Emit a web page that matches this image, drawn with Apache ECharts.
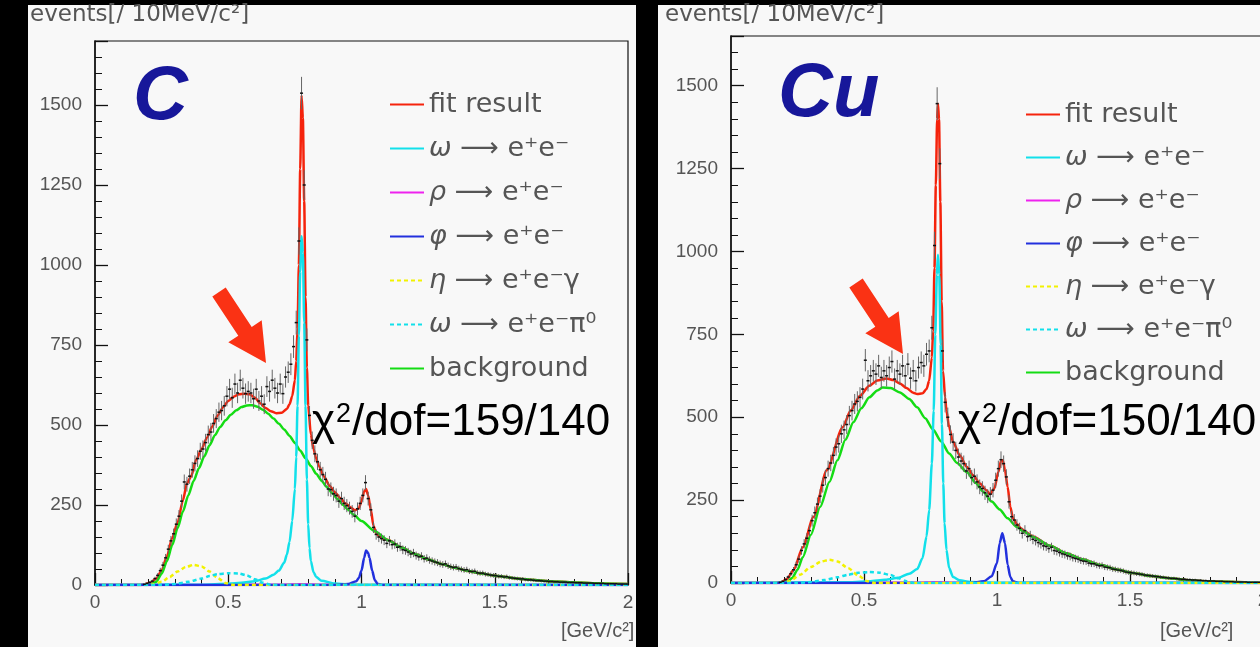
<!DOCTYPE html>
<html>
<head>
<meta charset="utf-8">
<script src="https://cdn.jsdelivr.net/npm/echarts@6/dist/echarts.min.js"></script>
<style>
html, body { margin: 0; padding: 0; background: #000; overflow: hidden; }
.panel { position: absolute; background: #f8f8f8; }
#chart { position: absolute; left: 0; top: 0; width: 1270px; height: 647px; }
</style>
</head>
<body>
<div class="panel" style="left:28px;top:5px;width:608px;height:642px"></div>
<div class="panel" style="left:658px;top:5px;width:612px;height:642px"></div>
<div id="chart"></div>
<script>
// histogram bins: 10 MeV wide, first bin centre at 0.185 GeV
var binStart = 0.185;
var binWidth = 0.01;

var xTicks = [0, 0.5, 1, 1.5, 2];
var yTicks = [0, 250, 500, 750, 1000, 1250, 1500];

// measured counts, carbon target
var dataC = [
  2, 5, 8, 12, 20, 30, 45, 62, 85, 112,
  138, 160, 190, 215, 262, 322, 315, 340, 360, 380,
  395, 418, 425, 445, 470, 478, 505, 520, 540, 545,
  560, 590, 612, 585, 628, 600, 640, 615, 598, 605,
  600, 582, 612, 575, 590, 565, 620, 605, 640, 615,
  600, 628, 598, 650, 665, 690, 745, 820, 1075, 1537,
  1250, 766, 530, 452, 410, 385, 360, 345, 330, 300,
  298, 285, 280, 262, 270, 255, 248, 240, 230, 215,
  238, 255, 280, 320, 270, 235, 180, 158, 150, 145,
  140, 130, 138, 126, 128, 118, 120, 110, 108, 103,
  97, 100, 92, 88, 90, 82, 84, 78, 75, 72,
  70, 66, 64, 66, 60, 57, 55, 56, 51, 49,
  47, 48, 43, 42, 43, 38, 37, 37, 34, 33,
  31, 30, 29, 27, 27, 25, 26, 23, 22, 21,
  20, 19, 19, 17, 16, 16, 15, 14, 14, 13,
  12, 12, 11, 11, 10, 10, 9, 9, 9, 8,
  8, 8, 7, 7, 7, 6, 6, 6, 6, 5,
  5, 5, 5, 4, 4, 4, 4, 4, 3, 3, 3, 3
];

// measured counts, copper target
var dataCu = [
  2, 5, 10, 18, 28, 40, 55, 72, 98, 118,
  135, 158, 188, 212, 238, 262, 295, 318, 345, 362,
  385, 410, 420, 450, 462, 478, 505, 520, 540, 548,
  560, 585, 672, 610, 625, 640, 630, 655, 620, 640,
  625, 650, 668, 615, 640, 630, 655, 625, 660, 618,
  640, 610, 650, 665, 655, 690, 700, 770, 1018, 1446,
  1265, 700, 545, 500, 448, 425, 400, 380, 368, 360,
  338, 345, 318, 322, 305, 290, 285, 272, 262, 268,
  280, 310, 345, 372, 360, 320, 245, 200, 190, 175,
  165, 150, 158, 140, 142, 132, 128, 122, 118, 112,
  110, 104, 108, 98, 96, 92, 88, 86, 82, 80,
  76, 74, 72, 68, 66, 65, 60, 58, 58, 54,
  52, 53, 48, 47, 46, 42, 41, 39, 38, 36,
  33, 32, 31, 30, 28, 27, 26, 24, 23, 22,
  21, 20, 19, 18, 17, 16, 15, 14, 14, 13,
  12, 11, 11, 10, 10, 9, 9, 8, 8, 7,
  7, 6, 6, 6, 5, 5, 5, 4, 4, 4,
  4, 3, 3, 3, 3, 3, 2, 2, 2, 2, 2, 2
];

// fit components, carbon
var fitC = [[0,0],[0.17,0],[0.19,3],[0.21,8],[0.23,20],[0.25,45],[0.27,90],[0.29,148],[0.31,195],[0.33,265],[0.345,318],[0.36,338],[0.38,392],[0.40,425],[0.42,460],[0.44,495],[0.46,530],[0.48,555],[0.50,575],[0.52,588],[0.54,596],[0.56,598],[0.58,596],[0.60,585],[0.62,568],[0.64,553],[0.66,543],[0.68,537],[0.70,538],[0.72,550],[0.73,565],[0.74,590],[0.75,640],[0.755,700],[0.76,800],[0.765,1000],[0.77,1300],[0.775,1530],[0.78,1460],[0.785,1200],[0.79,900],[0.795,680],[0.80,560],[0.81,470],[0.82,425],[0.83,395],[0.84,372],[0.86,338],[0.88,310],[0.90,290],[0.92,272],[0.94,255],[0.96,242],[0.975,233],[0.99,240],[1.00,262],[1.01,292],[1.017,300],[1.025,280],[1.035,235],[1.045,185],[1.055,162],[1.07,150],[1.085,144],[1.10,141],[1.15,117],[1.2,97],[1.25,80],[1.3,66],[1.35,54],[1.4,44],[1.45,36],[1.5,29],[1.6,19],[1.7,12],[1.8,8],[1.9,5],[2.0,3]];
var bgC = [[0.19,0],[0.21,2],[0.23,10],[0.25,35],[0.27,75],[0.29,125],[0.31,178],[0.33,230],[0.35,280],[0.37,325],[0.39,365],[0.41,402],[0.43,437],[0.45,468],[0.47,494],[0.49,515],[0.51,532],[0.53,546],[0.55,556],[0.57,561],[0.59,562],[0.61,557],[0.63,548],[0.65,535],[0.67,520],[0.69,504],[0.71,486],[0.73,466],[0.75,444],[0.77,420],[0.79,396],[0.81,372],[0.83,348],[0.85,326],[0.87,306],[0.89,287],[0.91,269],[0.93,251],[0.95,235],[0.97,220],[1.00,200],[1.05,168],[1.10,140],[1.15,117],[1.2,97],[1.25,80],[1.3,66],[1.35,54],[1.4,44],[1.45,36],[1.5,29],[1.6,19],[1.7,12],[1.8,8],[1.9,5],[2.0,3]];
var omegaC = [[0,0],[0.40,1],[0.50,4],[0.55,7],[0.60,12],[0.64,20],[0.67,32],[0.69,45],[0.71,70],[0.72,95],[0.73,135],[0.74,200],[0.75,300],[0.755,400],[0.76,560],[0.765,780],[0.77,980],[0.775,1090],[0.78,1040],[0.785,820],[0.79,560],[0.795,330],[0.80,190],[0.805,115],[0.81,75],[0.82,40],[0.83,25],[0.85,13],[0.90,5],[0.95,2],[1.00,1],[2.0,0]];
var rhoC = [[0,0],[0.5,0],[0.7,1],[0.77,2],[0.85,1],[1.0,0],[2.0,0]];
var phiC = [[0,0],[0.90,0],[0.95,3],[0.98,12],[0.99,22],[1.00,45],[1.01,85],[1.017,108],[1.025,100],[1.03,85],[1.04,45],[1.05,15],[1.06,4],[1.08,0],[2.0,0]];
var etaC = [[0,0],[0.20,0],[0.22,2],[0.25,10],[0.28,25],[0.31,42],[0.34,56],[0.37,63],[0.40,58],[0.43,42],[0.46,22],[0.49,6],[0.52,0],[2.0,0]];
var omegaDalC = [[0,0],[0.25,0],[0.30,3],[0.35,10],[0.40,20],[0.43,28],[0.46,34],[0.50,37],[0.54,36],[0.57,30],[0.60,18],[0.63,7],[0.66,1],[0.68,0],[2.0,0]];

// fit components, copper
var fitCu = [[0,0],[0.17,0],[0.19,3],[0.21,12],[0.235,39],[0.27,108],[0.31,199],[0.36,340],[0.42,470],[0.45,520],[0.485,565],[0.52,595],[0.55,611],[0.585,617],[0.61,612],[0.635,602],[0.66,588],[0.685,574],[0.70,570],[0.72,572],[0.735,585],[0.745,610],[0.755,680],[0.76,760],[0.765,950],[0.77,1200],[0.775,1400],[0.778,1446],[0.782,1400],[0.787,1150],[0.792,850],[0.797,640],[0.805,560],[0.81,520],[0.82,470],[0.835,425],[0.86,385],[0.887,350],[0.91,325],[0.936,300],[0.96,280],[0.974,268],[0.99,285],[1.005,335],[1.015,368],[1.022,370],[1.03,340],[1.04,290],[1.05,230],[1.06,195],[1.075,178],[1.09,165],[1.11,152],[1.135,140],[1.2,112],[1.26,90],[1.32,72],[1.39,54],[1.45,41],[1.51,30],[1.58,21],[1.64,15],[1.7,10],[1.76,6],[1.83,4],[1.89,3],[2.0,1]];
var bgCu = [[0.19,0],[0.21,3],[0.23,15],[0.25,40],[0.27,78],[0.30,145],[0.335,229],[0.37,305],[0.40,370],[0.43,432],[0.46,485],[0.49,527],[0.52,560],[0.55,581],[0.57,590],[0.60,588],[0.635,575],[0.67,555],[0.70,530],[0.73,497],[0.76,462],[0.79,427],[0.82,391],[0.85,362],[0.887,334],[0.92,302],[0.947,276],[0.98,246],[1.01,222],[1.04,195],[1.075,169],[1.10,155],[1.135,139],[1.2,112],[1.26,90],[1.32,72],[1.39,54],[1.45,41],[1.51,30],[1.58,21],[1.64,15],[1.7,10],[1.76,6],[1.83,4],[1.89,3],[2.0,1]];
var omegaCu = [[0,0],[0.45,2],[0.52,5],[0.58,10],[0.63,16],[0.67,28],[0.70,42],[0.72,75],[0.735,140],[0.745,220],[0.755,360],[0.762,520],[0.768,750],[0.774,930],[0.778,990],[0.783,930],[0.788,720],[0.793,480],[0.798,300],[0.803,180],[0.81,100],[0.82,45],[0.835,18],[0.86,8],[0.90,3],[1.0,1],[2.0,0]];
var rhoCu = [[0,0],[0.5,0],[0.7,1],[0.77,2],[0.85,1],[1.0,0],[2.0,0]];
var phiCu = [[0,0],[0.90,0],[0.95,5],[0.98,20],[1.00,60],[1.01,120],[1.02,150],[1.03,120],[1.04,55],[1.05,18],[1.06,5],[1.08,0],[2.0,0]];
var etaCu = [[0,0],[0.19,0],[0.22,5],[0.26,25],[0.30,48],[0.34,65],[0.37,70],[0.40,65],[0.44,45],[0.48,22],[0.51,6],[0.54,0],[2.0,0]];
var omegaDalCu = [[0,0],[0.25,0],[0.30,3],[0.35,9],[0.40,17],[0.44,25],[0.48,31],[0.52,33],[0.56,31],[0.60,24],[0.63,14],[0.66,5],[0.69,0],[2.0,0]];

var names = ['fit result', 'ω ⟶ e⁺e⁻', 'ρ ⟶ e⁺e⁻', 'φ ⟶ e⁺e⁻', 'η ⟶ e⁺e⁻γ', 'ω ⟶ e⁺e⁻π⁰', 'background'];

var myChart = echarts.init(document.getElementById('chart'));

function toPoints(counts) {
  return counts.map(function (v, i) {
    return [+(binStart + i * binWidth).toFixed(3), v];
  });
}

function curve(name, data, color, grid, dash, z) {
  return {
    name: name,
    type: 'line',
    xAxisIndex: grid,
    yAxisIndex: grid,
    data: data,
    symbol: 'none',
    smooth: 0.25,
    smoothMonotone: 'x',
    silent: true,
    z: z,
    itemStyle: { color: color },
    lineStyle: { color: color, width: 2.5, type: dash || 'solid' }
  };
}

function errorBars(params, api) {
  var x = api.value(0);
  var y = api.value(1);
  var err = Math.sqrt(y) * 1.3;
  var top = api.coord([x, y + err]);
  var bot = api.coord([x, Math.max(y - err, 0)]);
  var mid = api.coord([x, y]);
  return {
    type: 'group',
    children: [
      { type: 'line', shape: { x1: top[0], y1: top[1], x2: bot[0], y2: bot[1] }, style: { stroke: '#666', lineWidth: 1 } },
      { type: 'line', shape: { x1: mid[0] - 1.5, y1: mid[1], x2: mid[0] + 1.5, y2: mid[1] }, style: { stroke: '#111', lineWidth: 1.5 } }
    ]
  };
}

function xAxisFor(grid) {
  return {
    gridIndex: grid, type: 'value', min: 0, max: 2, interval: 0.5,
    axisLine: { show: true, onZero: false, lineStyle: { color: '#111', width: 1.5 } },
    axisTick: { show: true, inside: true, length: 12, lineStyle: { color: '#111', width: 1.3 } },
    minorTick: { show: true, splitNumber: 5, length: 6, lineStyle: { color: '#111', width: 1 } },
    splitLine: { show: false },
    axisLabel: { color: '#555', fontSize: 19, fontFamily: 'Liberation Sans', margin: 8, formatter: function (v) { return String(v); } }
  };
}

function yAxisFor(grid, max) {
  return {
    gridIndex: grid, type: 'value', min: 0, max: max, interval: 250,
    axisLine: { show: true, onZero: false, lineStyle: { color: '#111', width: 1.5 } },
    axisTick: { show: true, inside: true, length: 13, lineStyle: { color: '#111', width: 1.3 } },
    minorTick: { show: true, splitNumber: 5, length: 7, lineStyle: { color: '#111', width: 1 } },
    splitLine: { show: false },
    axisLabel: { color: '#555', fontSize: 19, fontFamily: 'Liberation Sans', margin: 13, showMaxLabel: false, formatter: function (v) { return String(v); } }
  };
}

function legendFor(left, top, gap) {
  return {
    orient: 'vertical', left: left, top: top,
    itemWidth: 34, itemHeight: 14, itemGap: gap,
    selectedMode: false,
    data: names,
    itemStyle: { opacity: 0 },
    formatter: function (name) {
      var first = name.charAt(0);
      if ('ωρφηπ'.indexOf(first) >= 0) return '{g|' + first + '}' + name.slice(1);
      return name;
    },
    textStyle: {
      fontSize: 27, color: '#555', fontFamily: 'DejaVu Sans',
      rich: { g: { fontSize: 27, color: '#555', fontStyle: 'italic', fontFamily: 'DejaVu Sans' } }
    }
  };
}

function panelSeries(grid, d) {
  return [
    curve(names[0], d.fit, '#f5230c', grid, null, 3),
    curve(names[6], d.bg, '#14dc14', grid, null, 4),
    curve(names[2], d.rho, '#ee22ee', grid, null, 5),
    curve(names[1], d.omega, '#12e0ea', grid, null, 6),
    curve(names[3], d.phi, '#2230dd', grid, null, 6),
    curve(names[4], d.eta, '#f2f200', grid, [4, 3], 7),
    curve(names[5], d.omegaDal, '#12e0ea', grid, [4, 3], 7),
    {
      name: 'data', type: 'custom', xAxisIndex: grid, yAxisIndex: grid,
      renderItem: errorBars, data: toPoints(d.counts), silent: true, z: 9,
      encode: { x: 0, y: 1 }
    }
  ];
}

function arrowPts(dx, dy) {
  var base = [[212.3, 296.4], [238.3, 335.7], [228.3, 342.3], [266, 363], [261.7, 320.3], [251.7, 326.9], [225.7, 287.6]];
  return base.map(function (p) { return [p[0] + dx, p[1] + dy]; });
}

function chiText(left, top, txt) {
  return {
    type: 'text', left: left, top: top, z: 20,
    style: {
      text: '{c|χ}{s|2}{c|' + txt + '}',
      rich: {
        c: { fontSize: 44, fontFamily: 'Liberation Sans', fill: '#000' },
        s: { fontSize: 27, fontFamily: 'Liberation Sans', fill: '#000', verticalAlign: 'top', padding: [0, 1, 0, 1] }
      }
    }
  };
}

var option = {
  backgroundColor: 'transparent',
  animation: false,
  grid: [
    { left: 95, top: 41, width: 533, height: 544, show: true, borderColor: '#111', borderWidth: 1.2, backgroundColor: 'transparent', outerBoundsMode: 'none' },
    { left: 731, top: 36, width: 532, height: 547, show: true, borderColor: '#111', borderWidth: 1.2, backgroundColor: 'transparent', outerBoundsMode: 'none' }
  ],
  xAxis: [xAxisFor(0), xAxisFor(1)],
  yAxis: [yAxisFor(0, 1700), yAxisFor(1, 1650)],
  legend: [legendFor(384, 86, 17), legendFor(1020, 96, 16)],
  series: panelSeries(0, { fit: fitC, bg: bgC, rho: rhoC, omega: omegaC, phi: phiC, eta: etaC, omegaDal: omegaDalC, counts: dataC })
    .concat(panelSeries(1, { fit: fitCu, bg: bgCu, rho: rhoCu, omega: omegaCu, phi: phiCu, eta: etaCu, omegaDal: omegaDalCu, counts: dataCu })),
  graphic: [
    { type: 'text', left: 30, top: 4, style: { text: 'events[/ 10MeV/c²]', fontSize: 23, fontFamily: 'DejaVu Sans', fill: '#555' } },
    { type: 'text', left: 665, top: 4, style: { text: 'events[/ 10MeV/c²]', fontSize: 23, fontFamily: 'DejaVu Sans', fill: '#555' } },
    { type: 'text', left: 561, top: 621, style: { text: '[GeV/c²]', fontSize: 20, fontFamily: 'Liberation Sans', fill: '#555' } },
    { type: 'text', left: 1160, top: 621, style: { text: '[GeV/c²]', fontSize: 20, fontFamily: 'Liberation Sans', fill: '#555' } },
    { type: 'text', left: 133, top: 60, style: { text: 'C', fontSize: 76, fontWeight: 'bold', fontStyle: 'italic', fontFamily: 'Liberation Sans', fill: '#17179a' } },
    { type: 'text', left: 778, top: 57, style: { text: 'Cu', fontSize: 76, fontWeight: 'bold', fontStyle: 'italic', fontFamily: 'Liberation Sans', fill: '#17179a' } },
    chiText(312, 401, '/dof=159/140'),
    chiText(958, 401, '/dof=150/140'),
    { type: 'polygon', z: 20, shape: { points: arrowPts(0, 0) }, style: { fill: '#fa3214' } },
    { type: 'polygon', z: 20, shape: { points: arrowPts(637, -9) }, style: { fill: '#fa3214' } }
  ]
};

option && myChart.setOption(option);
</script>
</body>
</html>
